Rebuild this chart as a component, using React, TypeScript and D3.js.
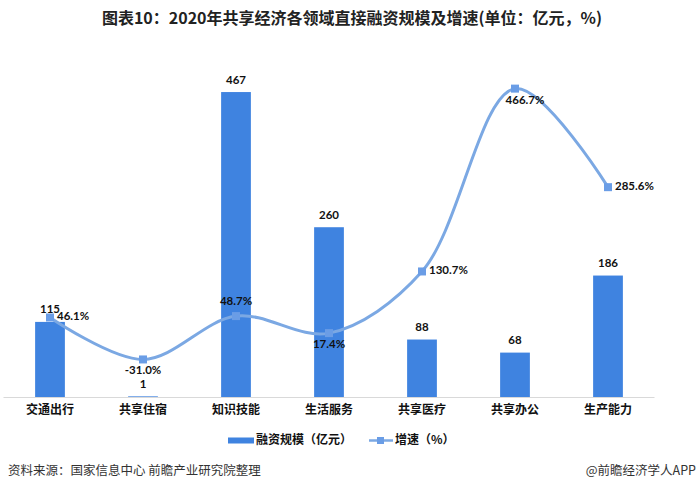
import * as d3 from 'd3';

const categories = ['交通出行', '共享住宿', '知识技能', '生活服务', '共享医疗', '共享办公', '生产能力'];
const funding = [115, 1, 467, 260, 88, 68, 186];
const growth = [46.1, -31.0, 48.7, 17.4, 130.7, 466.7, 285.6];
// where the growth label sits relative to its point
const growthLabelPos = ['right', 'below', 'above', 'below', 'right', 'below', 'right'];

const W = 700;
const H = 498;
const FONT = 'Lato, "Noto Sans CJK SC", sans-serif';
const CJK = '"Noto Sans CJK SC", sans-serif';
const BAR = '#3f83e0';
const LINE = '#7ba8e3';
const MARK = '#6a9de6';

export default function App() {
  const plot = { left: 3.5, right: 654.5, top: 70.5, bottom: 397 };

  const x = d3.scaleBand<string>()
    .domain(categories)
    .range([plot.left, plot.right])
    .paddingInner(0.68)
    .paddingOuter(0.34);

  const yBar = d3.scaleLinear().domain([0, 500]).range([plot.bottom, plot.top]);
  const yLine = d3.scaleLinear().domain([-100, 500]).range([plot.bottom, plot.top]);

  const cx = (c: string) => (x(c) ?? 0) + x.bandwidth() / 2;

  const pts: [number, number][] = categories.map((c, i) => [cx(c), yLine(growth[i])]);
  const linePath = d3.line().curve(d3.curveCatmullRom.alpha(0.5))(pts) ?? '';

  return (
    <div style={{ position: 'absolute', left: 0, top: 0 }}>
      <svg width={W} height={H} style={{ display: 'block', background: '#fff' }}>
        <text x={W / 2 + 2} y={20} textAnchor="middle" dominantBaseline="middle"
          fontFamily={CJK} fontWeight="bold" fontSize={16} fill="#222">
          图表10：2020年共享经济各领域直接融资规模及增速(单位：亿元，%)
        </text>

        {/* bars */}
        {categories.map((c, i) => (
          <rect key={c} x={x(c)} y={yBar(funding[i])} width={x.bandwidth()}
            height={yBar(0) - yBar(funding[i])} fill={BAR} />
        ))}

        {/* baseline */}
        <line x1={plot.left} x2={plot.right} y1={plot.bottom + 0.5} y2={plot.bottom + 0.5}
          stroke="#d9d9d9" strokeWidth={1} />

        {/* bar labels */}
        {categories.map((c, i) => (
          <text key={c} x={cx(c)} y={yBar(funding[i]) - 11.5} textAnchor="middle"
            dominantBaseline="middle" fontFamily={FONT} fontWeight="bold" fontSize={11.5} fill="#111">
            {funding[i]}
          </text>
        ))}

        {/* growth line */}
        <path d={linePath} fill="none" stroke={LINE} strokeWidth={3} />
        {pts.map(([px, py], i) => (
          <rect key={i} x={px - 4} y={py - 4} width={8} height={8} fill={MARK} />
        ))}
        {pts.map(([px, py], i) => {
          const pos = growthLabelPos[i];
          let tx = px, ty = py, anchor = 'middle';
          if (pos === 'right') { tx = px + 7; anchor = 'start'; }
          if (pos === 'below') { ty = py + 12; }
          if (pos === 'above') { ty = py - 14; }
          if (i === 5) tx = px + 10;
          return (
            <text key={i} x={tx} y={ty} textAnchor={anchor} dominantBaseline="middle"
              fontFamily={FONT} fontWeight="bold" fontSize={11.5} fill="#111">
              {growth[i].toFixed(1)}%
            </text>
          );
        })}

        {/* category labels */}
        {categories.map((c) => (
          <text key={c} x={cx(c)} y={411} textAnchor="middle" dominantBaseline="middle"
            fontFamily={CJK} fontWeight="bold" fontSize={12} fill="#111">
            {c}
          </text>
        ))}

        {/* legend */}
        <rect x={228} y={437.5} width={26} height={6} fill={BAR} />
        <text x={256} y={440.5} dominantBaseline="middle" fontFamily={CJK} fontWeight="bold"
          fontSize={12} fill="#111">融资规模（亿元）</text>
        <line x1={369} x2={393} y1={440.5} y2={440.5} stroke={LINE} strokeWidth={2.5} />
        <rect x={377} y={437} width={7} height={7} fill={MARK} />
        <text x={395} y={440.5} dominantBaseline="middle" fontFamily={CJK} fontWeight="bold"
          fontSize={12} fill="#111">增速（%）</text>

        {/* footer */}
        <text x={8} y={472} dominantBaseline="middle" fontFamily={CJK} fontSize={12.5} fill="#333">
          资料来源：国家信息中心 前瞻产业研究院整理
        </text>
        <text x={696} y={472} textAnchor="end" dominantBaseline="middle" fontFamily={CJK}
          fontSize={12.5} fill="#333">
          @前瞻经济学人APP
        </text>
      </svg>
    </div>
  );
}
